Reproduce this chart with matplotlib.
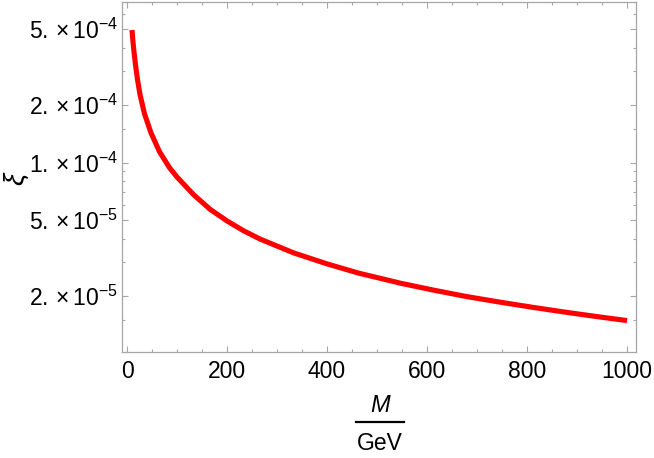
import matplotlib
matplotlib.use("Agg")
import matplotlib.pyplot as plt
from matplotlib.lines import Line2D
from matplotlib.ticker import FixedLocator, NullFormatter

M_values = [10, 12, 14, 17, 21, 26, 35, 48, 65, 85, 100, 133, 166, 200, 233, 266,
            333, 400, 463, 546, 613, 679, 746, 813, 879, 946, 1000]
xi_values = [4.94e-4, 4.28e-4, 3.80e-4, 3.25e-4, 2.72e-4, 2.27e-4, 1.80e-4, 1.43e-4,
             1.14e-4, 9.4e-5, 8.4e-5, 6.8e-5, 5.7e-5, 4.95e-5, 4.40e-5, 3.98e-5,
             3.37e-5, 2.95e-5, 2.64e-5, 2.34e-5, 2.15e-5, 1.99e-5, 1.86e-5, 1.745e-5,
             1.645e-5, 1.555e-5, 1.49e-5]

x_major = [0, 200, 400, 600, 800, 1000]
x_minor = [v for v in range(0, 1001, 50) if v % 200 != 0]
y_major = [2e-5, 5e-5, 1e-4, 2e-4, 5e-4]
y_major_labels = [r"$2.\times10^{-5}$", r"$5.\times10^{-5}$", r"$1.\times10^{-4}$",
                  r"$2.\times10^{-4}$", r"$5.\times10^{-4}$"]
y_minor = [1.5e-5, 3e-5, 4e-5, 6e-5, 7e-5, 8e-5, 9e-5, 1.5e-4, 3e-4, 4e-4, 6e-4]

plt.rcParams['font.family'] = ['Liberation Sans', 'DejaVu Sans']
plt.rcParams['mathtext.fontset'] = 'custom'
plt.rcParams['mathtext.rm'] = 'Liberation Sans'
plt.rcParams['mathtext.it'] = 'Liberation Sans:italic'

W, H = 654, 458
fig = plt.figure(figsize=(W / 100, H / 100), dpi=100)
ax = fig.add_axes([122.3 / W, 1 - 352 / H, (636 - 122.3) / W, (352 - 1.7) / H])

ax.plot(M_values, xi_values, color='#ff0000', lw=3.7, solid_capstyle='butt',
        solid_joinstyle='round')
ax.set_yscale('log')
ax.set_xlim(-9.4, 1018)
ax.set_ylim(1.02e-5, 6.95e-4)

ax.xaxis.set_major_locator(FixedLocator(x_major))
ax.xaxis.set_minor_locator(FixedLocator(x_minor))
ax.set_xticklabels([str(v) for v in x_major])
ax.yaxis.set_major_locator(FixedLocator(y_major))
ax.yaxis.set_minor_locator(FixedLocator(y_minor))
ax.set_yticklabels(y_major_labels)
ax.yaxis.set_minor_formatter(NullFormatter())

frame_col = '#a6a6a6'
for s in ax.spines.values():
    s.set_color(frame_col)
    s.set_linewidth(0.9)
ax.tick_params(which='both', direction='in', top=True, right=True, color=frame_col,
               labelcolor='black', labelsize=16.5, width=0.8)
ax.tick_params(which='major', length=4.5)
ax.tick_params(which='minor', length=2.5)
ax.tick_params(axis='x', which='major', pad=6)
ax.tick_params(axis='y', which='major', pad=3)

# y label
fig.text(17 / W, 1 - 178 / H, r"$\xi$", rotation=90, ha='center', va='center', fontsize=20)

# x label as fraction M / GeV
fig.text(380 / W, 1 - 405 / H, "M", style='italic', ha='center', va='center', fontsize=17)
fig.add_artist(Line2D([356 / W, 404 / W], [1 - 421.7 / H, 1 - 421.7 / H],
                      color='black', lw=1.6, transform=fig.transFigure))
fig.text(380 / W, 1 - 443 / H, "GeV", ha='center', va='center', fontsize=16.5)

fig.savefig("out.png", dpi=100)
